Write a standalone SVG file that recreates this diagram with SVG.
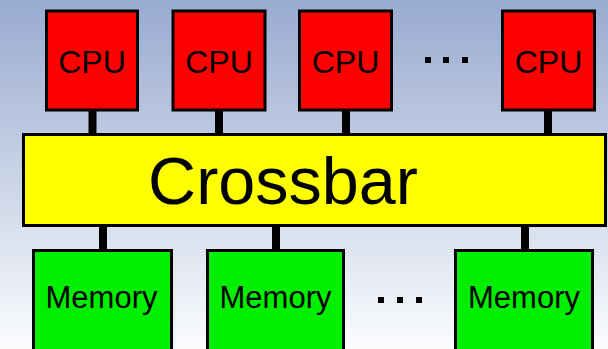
<svg xmlns="http://www.w3.org/2000/svg" width="608" height="349" viewBox="0 0 608 349">
<defs>
<linearGradient id="bg" x1="0" y1="0" x2="0" y2="1">
<stop offset="0" stop-color="#98aad0"/>
<stop offset="0.5" stop-color="#c9d3e6"/>
<stop offset="1" stop-color="#fbfcfe"/>
</linearGradient>
<style>
.cpu{fill:#ff0000;stroke:#000;stroke-width:3}
.mem{fill:#00ee00;stroke:#000;stroke-width:3}
.xbar{fill:#ffff00;stroke:#000;stroke-width:3}
.lbl{font-family:"Liberation Sans",Arial,sans-serif;fill:#000;text-anchor:middle}
.link{stroke:#000;stroke-width:8}
.dot{fill:#000}
</style>
</defs>
<rect x="0" y="0" width="608" height="349" fill="url(#bg)"/>
<g id="connectors">
<line class="link" x1="92.5" y1="110" x2="92.5" y2="135"/>
<line class="link" x1="219" y1="110" x2="219" y2="135"/>
<line class="link" x1="346" y1="110" x2="346" y2="135"/>
<line class="link" x1="548" y1="110" x2="548" y2="135"/>
<line class="link" x1="103" y1="226" x2="103" y2="250"/>
<line class="link" x1="276" y1="226" x2="276" y2="250"/>
<line class="link" x1="525" y1="226" x2="525" y2="250"/>
</g>
<g id="cpu1"><rect class="cpu" x="46.5" y="11" width="91" height="99"/><text class="lbl" x="92" y="72.5" font-size="32">CPU</text></g>
<g id="cpu2"><rect class="cpu" x="173" y="11" width="92" height="99"/><text class="lbl" x="219" y="72.5" font-size="32">CPU</text></g>
<g id="cpu3"><rect class="cpu" x="299.5" y="11" width="92" height="99"/><text class="lbl" x="345.5" y="72.5" font-size="32">CPU</text></g>
<g id="cpu4"><rect class="cpu" x="502.5" y="11" width="92" height="99"/><text class="lbl" x="548.5" y="72.5" font-size="32">CPU</text></g>
<g id="dots-top"><rect class="dot" x="425" y="57" width="6" height="6"/><rect class="dot" x="443" y="57" width="6" height="6"/><rect class="dot" x="462" y="57" width="6" height="6"/></g>
<g id="crossbar"><rect class="xbar" x="23.5" y="134.5" width="582" height="91"/><text class="lbl" x="283" y="203.5" font-size="66.5">Crossbar</text></g>
<g id="mem1"><rect class="mem" x="33.5" y="250.5" width="138" height="110"/><text class="lbl" x="101.5" y="308" font-size="31">Memory</text></g>
<g id="mem2"><rect class="mem" x="207.5" y="250.5" width="136" height="110"/><text class="lbl" x="275.5" y="308" font-size="31">Memory</text></g>
<g id="dots-bottom"><rect class="dot" x="378" y="297" width="6" height="6"/><rect class="dot" x="397" y="297" width="6" height="6"/><rect class="dot" x="416" y="297" width="6" height="6"/></g>
<g id="mem3"><rect class="mem" x="455.5" y="250.5" width="137" height="110"/><text class="lbl" x="524" y="308" font-size="31">Memory</text></g>
</svg>
